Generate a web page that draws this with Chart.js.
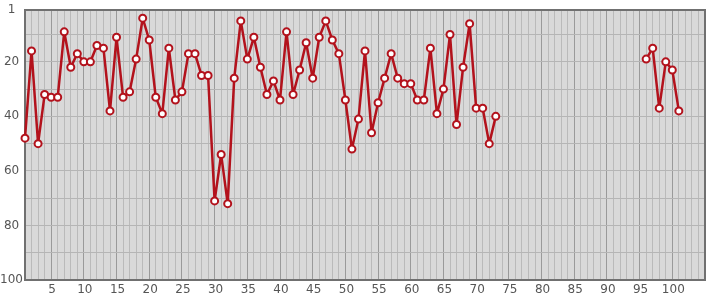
<!DOCTYPE html>
<html>
<head>
<meta charset="utf-8">
<script src="https://cdn.jsdelivr.net/npm/chart.js@4"></script>
<style>
  html, body { margin: 0; padding: 0; background: #fff; }
  #wrap { width: 715px; height: 300px; }
</style>
</head>
<body>
<div id="wrap"><canvas id="rankChart"></canvas></div>
<script>
// rank per day (null = no data)
const ranks = [
    48, 16, 50, 32, 33, 33, 9, 22, 17, 20,
    20, 14, 15, 38, 11, 33, 31, 19, 4, 12,
    33, 39, 15, 34, 31, 17, 17, 25, 25, 71,
    54, 72, 26, 5, 19, 11, 22, 32, 27, 34,
    9, 32, 23, 13, 26, 11, 5, 12, 17, 34,
    52, 41, 16, 46, 35, 26, 17, 26, 28, 28,
    34, 34, 15, 39, 30, 10, 43, 22, 6, 37,
    37, 50, 40, null, null, null, null, null, null, null,
    null, null, null, null, null, null, null, null, null, null,
    null, null, null, null, null, 19, 15, 37, 20, 23,
    38
];
const yTicks = [1, 10, 20, 30, 40, 50, 60, 70, 80, 90, 100];
const yLabels = [1, 20, 40, 60, 80, 100];
const xMin = 1, xMax = 105;

const points = ranks.map((r, i) => ({ x: i + 1, y: r }));

// plot background + frame
const plotFrame = {
    id: 'plotFrame',
    beforeDraw(chart) {
        const { ctx, chartArea: a } = chart;
        ctx.save();
        ctx.fillStyle = '#d9d9d9';
        ctx.fillRect(a.left, a.top, a.right - a.left, a.bottom - a.top);
        ctx.restore();
    },
    beforeDatasetsDraw(chart) {
        const { ctx, chartArea: a } = chart;
        ctx.save();
        ctx.strokeStyle = '#707070';
        ctx.lineWidth = 2;
        ctx.strokeRect(a.left, a.top, a.right - a.left, a.bottom - a.top);
        ctx.restore();
    }
};

const tickFont = { family: 'DejaVu Sans', size: 12 };

new Chart(document.getElementById('rankChart'), {
    type: 'line',
    data: {
        datasets: [{
            data: points,
            borderColor: '#b3121c',
            borderWidth: 2.5,
            borderJoinStyle: 'round',
            pointBackgroundColor: '#ffffff',
            pointBorderColor: '#b3121c',
            pointBorderWidth: 2,
            pointRadius: 3.5,
            spanGaps: false,
            tension: 0,
            clip: false
        }]
    },
    options: {
        responsive: true,
        maintainAspectRatio: false,
        animation: false,
        layout: { padding: { top: 10, right: 10, left: 0, bottom: 0 } },
        plugins: { legend: { display: false }, tooltip: { enabled: false } },
        scales: {
            x: {
                type: 'linear',
                min: xMin,
                max: xMax,
                afterBuildTicks: s => {
                    const t = [];
                    for (let v = xMin; v <= xMax; v++) t.push({ value: v });
                    s.ticks = t;
                },
                afterFit: s => { s.height = 20; s.paddingRight = 0; },
                ticks: {
                    autoSkip: false,
                    maxRotation: 0,
                    padding: 3,
                    labelOffset: 1,
                    color: '#555',
                    font: tickFont,
                    callback: v => (v % 5 === 0 && v <= 100 ? String(v) : '')
                },
                grid: {
                    drawTicks: false,
                    color: c => (c.tick && c.tick.value % 5 === 0 ? '#9a9a9a' : '#bababa'),
                    lineWidth: 1
                },
                border: { display: false }
            },
            y: {
                reverse: true,
                min: 1,
                max: 100,
                afterBuildTicks: s => { s.ticks = yTicks.map(v => ({ value: v })); },
                afterFit: s => { s.width = 25; },
                ticks: {
                    autoSkip: false,
                    padding: 2,
                    crossAlign: 'center',
                    color: '#555',
                    font: tickFont,
                    callback: v => (yLabels.includes(v) ? String(v) : '')
                },
                grid: { drawTicks: false, color: '#b5b5b5', lineWidth: 1 },
                border: { display: false }
            }
        }
    },
    plugins: [plotFrame]
});
</script>
</body>
</html>
